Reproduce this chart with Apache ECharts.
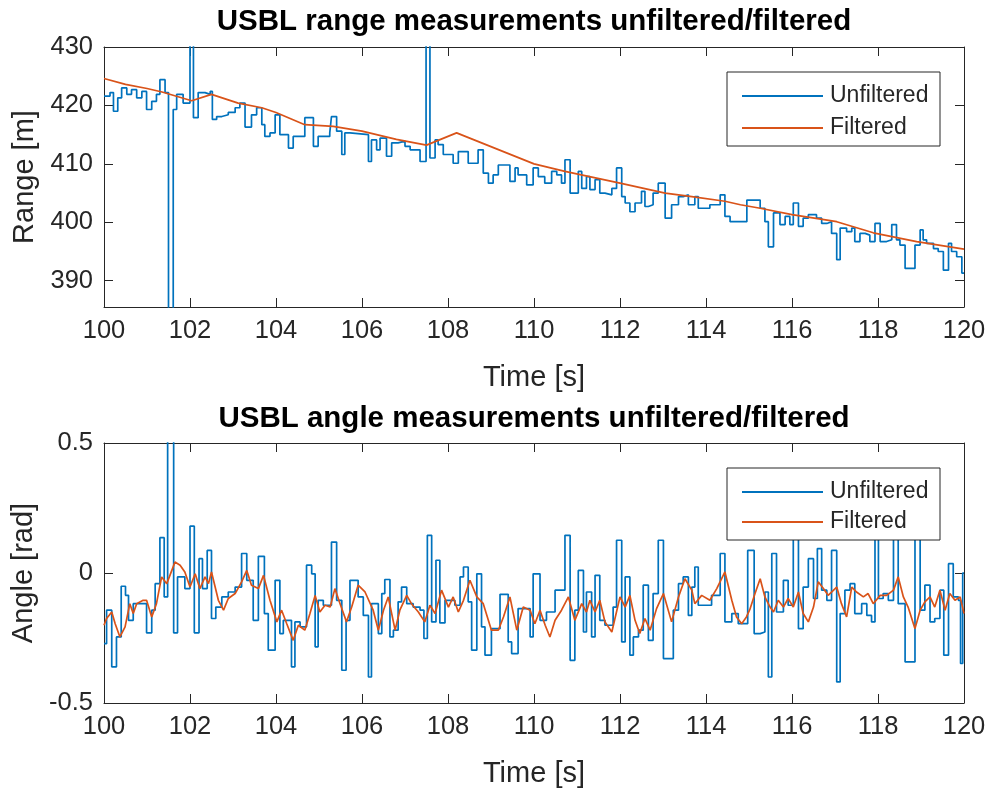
<!DOCTYPE html>
<html>
<head>
<meta charset="utf-8">
<script src="https://cdn.jsdelivr.net/npm/echarts@6/dist/echarts.min.js"></script>
<style>
html,body{margin:0;padding:0;background:#fff;}
#chart{width:991px;height:791px;}
</style>
</head>
<body>
<div id="chart"></div>
<script>
// ---------------- DATA ----------------
const xTicks = [100,102,104,106,108,110,112,114,116,118,120];
const rangeTicks = [390,400,410,420,430];
const angleTicks = [-0.5,0,0.5];
const seriesNames = ['Unfiltered','Filtered'];

// Range, unfiltered (sample-and-hold: [time s, range m])
const rangeRaw = [
[100.00,421.6],[100.14,422.2],[100.22,419.0],[100.32,421.3],[100.41,423.0],[100.53,421.9],[100.64,422.7],[100.76,421.3],
[100.88,422.4],[100.99,419.3],[101.11,420.7],[101.22,421.9],[101.30,424.4],[101.42,422.2],[101.50,380.0],[101.61,419.3],
[101.69,421.9],[101.84,420.4],[102.00,440.0],[102.08,417.9],[102.19,422.2],[102.35,421.9],[102.47,422.4],[102.52,417.6],
[102.62,418.1],[102.74,418.4],[102.89,418.8],[103.05,419.6],[103.16,420.4],[103.28,416.3],[103.43,418.4],[103.55,419.6],
[103.67,416.7],[103.74,414.7],[103.86,415.3],[103.98,418.4],[104.09,415.0],[104.29,412.7],[104.40,414.7],[104.67,417.9],
[104.87,413.0],[104.98,414.7],[105.25,415.3],[105.29,418.1],[105.41,415.6],[105.53,411.6],[105.60,415.3],[105.72,415.0],
[106.15,410.4],[106.22,414.1],[106.34,412.4],[106.42,414.4],[106.57,411.3],[106.69,413.6],[106.84,413.9],[107.00,413.0],
[107.12,412.4],[107.35,410.4],[107.49,440.0],[107.58,411.0],[107.70,414.1],[107.77,413.3],[107.89,411.6],[108.12,410.1],
[108.24,412.1],[108.47,410.1],[108.70,412.4],[108.82,408.4],[108.94,406.7],[109.05,408.1],[109.17,409.8],[109.44,407.0],
[109.56,409.3],[109.63,408.1],[109.83,406.4],[109.98,409.3],[110.10,407.8],[110.25,406.7],[110.41,408.7],[110.53,408.1],
[110.64,406.7],[110.72,410.7],[110.84,405.0],[111.03,408.7],[111.11,405.8],[111.22,407.8],[111.30,405.6],[111.42,407.3],
[111.53,405.0],[111.65,404.7],[111.81,405.8],[111.92,409.3],[112.04,404.4],[112.12,403.3],[112.23,401.8],[112.35,403.3],
[112.50,405.3],[112.58,402.7],[112.66,403.0],[112.77,405.0],[112.89,406.7],[113.05,400.7],[113.20,403.0],[113.36,404.4],
[113.47,404.7],[113.59,403.0],[113.74,404.4],[113.82,402.4],[114.09,403.0],[114.33,404.7],[114.44,401.0],[114.56,400.1],
[114.95,403.8],[115.26,402.4],[115.37,400.1],[115.45,395.8],[115.57,401.6],[115.72,399.6],[115.84,401.0],[115.95,399.6],
[116.03,403.3],[116.15,399.3],[116.26,400.7],[116.38,401.3],[116.57,400.7],[116.69,399.8],[116.81,400.1],[116.92,398.1],
[117.04,393.6],[117.12,399.0],[117.27,398.4],[117.39,399.0],[117.46,396.7],[117.58,398.1],[117.70,397.8],[117.81,396.7],
[117.93,399.8],[118.05,396.7],[118.20,397.0],[118.32,399.6],[118.43,397.0],[118.51,396.1],[118.63,392.1],[118.86,396.1],
[118.98,398.7],[119.05,397.0],[119.13,396.4],[119.29,395.5],[119.40,395.0],[119.52,391.8],[119.64,396.4],[119.71,395.0],
[119.83,394.1],[119.95,391.3],[120.00,391.3]
];

// Range, filtered ([time s, range m])
const rangeFilt = [
[100.0,424.6],[100.5,423.6],[101.0,422.9],[101.35,422.3],[102.04,420.8],[102.5,421.9],[103.12,420.4],[103.67,419.6],
[104.0,418.8],[104.67,416.7],[105.33,416.4],[106.0,415.6],[106.8,414.2],[107.5,413.2],[108.2,415.3],[110.0,410.0],
[110.72,408.7],[112.0,406.7],[113.05,405.0],[113.67,404.4],[114.44,403.6],[114.8,403.0],[115.26,402.4],[116.0,401.3],
[117.04,400.1],[117.89,398.2],[118.9,396.7],[120.0,395.4]
];

// Angle, unfiltered (sample-and-hold: [time s, angle rad])
const angleRaw = [
[100.00,-0.272],[100.06,-0.143],[100.18,-0.361],[100.29,-0.246],[100.40,-0.051],[100.50,-0.086],[100.57,-0.182],[100.68,-0.118],
[100.99,-0.230],[101.11,-0.143],[101.19,-0.041],[101.30,0.136],[101.40,-0.092],[101.48,0.600],[101.62,-0.230],[101.71,-0.015],
[101.88,-0.060],[102.00,0.180],[102.10,-0.230],[102.21,0.055],[102.29,-0.060],[102.40,0.087],[102.50,-0.175],[102.60,-0.131],
[102.74,-0.092],[102.89,-0.073],[103.05,-0.054],[103.20,0.075],[103.32,-0.028],[103.47,-0.182],[103.59,0.064],[103.73,-0.156],
[103.82,-0.297],[103.98,-0.028],[104.09,-0.233],[104.17,-0.182],[104.36,-0.361],[104.44,-0.188],[104.56,-0.207],[104.71,0.030],
[104.83,-0.003],[104.91,-0.284],[104.98,-0.105],[105.10,-0.124],[105.29,0.119],[105.41,-0.105],[105.53,-0.374],[105.63,-0.182],
[105.72,-0.028],[105.91,-0.092],[106.03,-0.163],[106.15,-0.400],[106.22,-0.118],[106.38,-0.233],[106.46,-0.079],[106.53,-0.025],
[106.65,-0.246],[106.73,-0.220],[106.84,-0.111],[106.92,-0.054],[107.04,-0.118],[107.19,-0.131],[107.35,-0.143],[107.44,-0.252],
[107.52,0.145],[107.62,-0.188],[107.72,0.049],[107.81,-0.192],[107.93,-0.105],[108.16,-0.124],[108.28,-0.015],[108.36,0.023],
[108.47,-0.111],[108.55,-0.297],[108.67,-0.003],[108.78,-0.207],[108.86,-0.316],[109.01,-0.214],[109.21,-0.082],[109.40,-0.265],
[109.48,-0.310],[109.63,-0.137],[109.91,-0.246],[109.98,-0.003],[110.14,-0.182],[110.29,-0.150],[110.49,-0.066],[110.72,0.145],
[110.84,-0.336],[110.95,-0.143],[111.03,0.010],[111.15,-0.227],[111.22,-0.073],[111.34,-0.246],[111.42,-0.009],[111.53,-0.182],
[111.65,-0.201],[111.84,-0.131],[111.92,0.126],[112.04,-0.265],[112.12,-0.015],[112.23,-0.316],[112.31,-0.246],[112.43,-0.220],
[112.54,-0.047],[112.66,-0.259],[112.77,-0.079],[112.89,0.126],[113.01,-0.329],[113.24,-0.143],[113.36,-0.041],[113.47,-0.015],
[113.59,-0.163],[113.67,-0.054],[113.74,0.023],[113.82,-0.124],[114.13,-0.086],[114.33,0.075],[114.44,-0.188],[114.60,-0.156],
[114.75,-0.195],[114.97,0.087],[115.12,-0.233],[115.26,-0.227],[115.37,-0.073],[115.45,-0.400],[115.53,0.075],[115.64,-0.150],
[115.80,-0.028],[115.91,-0.124],[116.03,0.200],[116.15,-0.214],[116.26,-0.054],[116.38,0.055],[116.50,-0.098],[116.59,0.094],
[116.69,-0.066],[116.81,-0.105],[116.92,0.087],[117.04,-0.419],[117.12,-0.156],[117.23,-0.066],[117.35,-0.041],[117.46,-0.156],
[117.62,-0.118],[117.74,-0.163],[117.85,-0.188],[117.93,0.200],[118.01,-0.098],[118.12,-0.079],[118.24,-0.105],[118.36,0.200],
[118.47,-0.118],[118.63,-0.342],[118.86,0.200],[118.98,-0.143],[119.09,-0.047],[119.21,-0.188],[119.32,-0.175],[119.44,-0.066],
[119.53,-0.316],[119.64,0.036],[119.75,-0.092],[119.87,-0.105],[119.92,-0.348],[119.97,0.000],[120.00,0.000]
];

// Angle, filtered ([time s, angle rad])
const angleFilt = [
[100.00,-0.201],[100.06,-0.175],[100.18,-0.150],[100.26,-0.195],[100.37,-0.246],[100.49,-0.207],[100.60,-0.118],[100.68,-0.156],
[100.76,-0.118],[100.91,-0.105],[100.99,-0.105],[101.11,-0.169],[101.22,-0.118],[101.34,-0.015],[101.46,-0.041],[101.65,0.042],
[101.77,0.030],[101.88,0.004],[102.00,-0.054],[102.12,-0.003],[102.23,-0.060],[102.35,-0.015],[102.43,-0.041],[102.50,0.004],
[102.66,-0.105],[102.78,-0.143],[102.89,-0.098],[103.05,-0.079],[103.20,-0.034],[103.32,0.010],[103.43,-0.047],[103.59,-0.060],
[103.71,-0.009],[103.86,-0.105],[104.02,-0.188],[104.13,-0.143],[104.25,-0.195],[104.40,-0.259],[104.52,-0.201],[104.67,-0.220],
[104.79,-0.156],[104.91,-0.086],[105.02,-0.150],[105.14,-0.124],[105.26,-0.131],[105.37,-0.060],[105.49,-0.118],[105.64,-0.188],
[105.76,-0.131],[105.91,-0.047],[106.07,-0.073],[106.26,-0.143],[106.38,-0.220],[106.50,-0.143],[106.61,-0.092],[106.77,-0.220],
[106.88,-0.143],[107.04,-0.086],[107.15,-0.118],[107.31,-0.150],[107.46,-0.188],[107.58,-0.124],[107.70,-0.156],[107.85,-0.066],
[108.01,-0.131],[108.12,-0.092],[108.24,-0.150],[108.36,-0.105],[108.51,-0.028],[108.67,-0.092],[108.82,-0.118],[109.01,-0.220],
[109.17,-0.220],[109.29,-0.169],[109.44,-0.092],[109.60,-0.220],[109.75,-0.131],[109.91,-0.143],[110.02,-0.195],[110.14,-0.143],
[110.26,-0.201],[110.37,-0.246],[110.49,-0.182],[110.64,-0.143],[110.80,-0.092],[110.95,-0.182],[111.11,-0.118],[111.22,-0.150],
[111.30,-0.105],[111.42,-0.150],[111.53,-0.105],[111.65,-0.188],[111.81,-0.227],[112.00,-0.092],[112.12,-0.131],[112.23,-0.086],
[112.35,-0.182],[112.46,-0.233],[112.58,-0.175],[112.70,-0.220],[112.85,-0.137],[113.01,-0.079],[113.20,-0.188],[113.36,-0.092],
[113.51,-0.022],[113.67,-0.066],[113.74,-0.118],[113.90,-0.086],[114.09,-0.105],[114.25,-0.060],[114.44,0.004],[114.60,-0.105],
[114.71,-0.169],[114.83,-0.195],[114.94,-0.169],[115.02,-0.140],[115.14,-0.079],[115.26,-0.022],[115.37,-0.092],[115.49,-0.131],
[115.57,-0.150],[115.68,-0.105],[115.80,-0.131],[115.91,-0.098],[116.03,-0.131],[116.15,-0.073],[116.26,-0.156],[116.38,-0.188],
[116.50,-0.131],[116.61,-0.034],[116.73,-0.060],[116.84,-0.086],[117.04,-0.054],[117.15,-0.118],[117.27,-0.169],[117.39,-0.054],
[117.50,-0.073],[117.66,-0.092],[117.77,-0.079],[117.89,-0.118],[118.05,-0.086],[118.20,-0.086],[118.36,-0.066],[118.47,-0.015],
[118.59,-0.092],[118.70,-0.131],[118.86,-0.214],[118.98,-0.143],[119.09,-0.111],[119.21,-0.092],[119.32,-0.131],[119.44,-0.066],
[119.56,-0.143],[119.67,-0.079],[119.79,-0.105],[119.91,-0.092],[120.00,-0.156]
];

// ---------------- STYLE ----------------
const BLUE = '#0072BD', ORANGE = '#D95319', AX = '#262626';
const FONT = '"Liberation Sans", Arial, Helvetica, sans-serif';
const G = [{left:104, right:27, top:47, height:260},{left:104, right:27, top:443, height:260}];

function xAxisPair(gi){
  const base = {gridIndex:gi, type:'value', min:100, max:120, interval:2,
    axisLine:{show:true, onZero:false, lineStyle:{color:AX, width:1}},
    axisTick:{show:true, inside:true, length:9, lineStyle:{color:AX, width:1}},
    splitLine:{show:false}};
  return [
    Object.assign({}, base, {position:'bottom',
      axisLabel:{show:true, color:AX, fontSize:25.5, fontFamily:FONT, margin:11},
      name:'Time [s]', nameLocation:'middle', nameGap:56,
      nameTextStyle:{color:AX, fontSize:29, fontFamily:FONT}}),
    Object.assign({}, base, {position:'top', axisLabel:{show:false}})
  ];
}
function yAxisPair(gi, min, max, ticks, name, fmt){
  const base = {gridIndex:gi, type:'value', min:min, max:max,
    axisLine:{show:true, onZero:false, lineStyle:{color:AX, width:1}},
    axisTick:{show:true, inside:true, length:9, customValues:ticks, lineStyle:{color:AX, width:1}},
    splitLine:{show:false}};
  return [
    Object.assign({}, base, {position:'left',
      axisLabel:{show:true, customValues:ticks, color:AX, fontSize:25.5, fontFamily:FONT, margin:11, formatter:fmt},
      name:name, nameLocation:'middle', nameGap:52,
      nameTextStyle:{color:AX, fontSize:29, fontFamily:FONT}}),
    Object.assign({}, base, {position:'right', axisLabel:{show:false}})
  ];
}

function legendAt(top, gap){
  return {orient:'vertical', left:727, top:top, data:seriesNames,
    icon:'rect', itemWidth:81, itemHeight:2, itemGap:gap, padding:[12,10,6,15],
    borderColor:AX, borderWidth:1, borderRadius:0, backgroundColor:'#fff',
    selectedMode:false, z:10,
    textStyle:{color:AX, fontSize:23, lineHeight:24, fontFamily:FONT, width:100, padding:[0,0,0,2]}};
}

function lineSeries(name, xi, yi, data, color, step){
  return {name:name, type:'line', xAxisIndex:xi, yAxisIndex:yi, data:data,
    step:step || false, symbol:'none', showSymbol:false, clip:true, animation:false,
    lineStyle:{color:color, width:1.7}, itemStyle:{color:color}};
}

const option = {
  backgroundColor:'#fff',
  animation:false,
  title:[
    {text:'USBL range measurements unfiltered/filtered', left:529, top:2, textAlign:'center',
     textStyle:{color:'#000', fontSize:29.5, fontWeight:'bold', fontFamily:FONT}},
    {text:'USBL angle measurements unfiltered/filtered', left:529, top:399, textAlign:'center',
     textStyle:{color:'#000', fontSize:29.5, fontWeight:'bold', fontFamily:FONT}}
  ],
  legend:[legendAt(72, 8), legendAt(468, 6)],
  grid:G,
  xAxis:[].concat(xAxisPair(0), xAxisPair(1)),
  yAxis:[].concat(
    yAxisPair(0, 385.5, 430, rangeTicks, 'Range [m]', v => (v % 10 === 0 ? String(v) : '')),
    yAxisPair(1, -0.5, 0.5, angleTicks, 'Angle [rad]', v => String(v))
  ),
  series:[
    lineSeries(seriesNames[0], 0, 0, rangeRaw, BLUE, 'end'),
    lineSeries(seriesNames[1], 0, 0, rangeFilt, ORANGE),
    lineSeries(seriesNames[0], 2, 2, angleRaw, BLUE, 'end'),
    lineSeries(seriesNames[1], 2, 2, angleFilt, ORANGE)
  ]
};

const chart = echarts.init(document.getElementById('chart'), null, {renderer:'canvas'});
chart.setOption(option);
</script>
</body>
</html>
